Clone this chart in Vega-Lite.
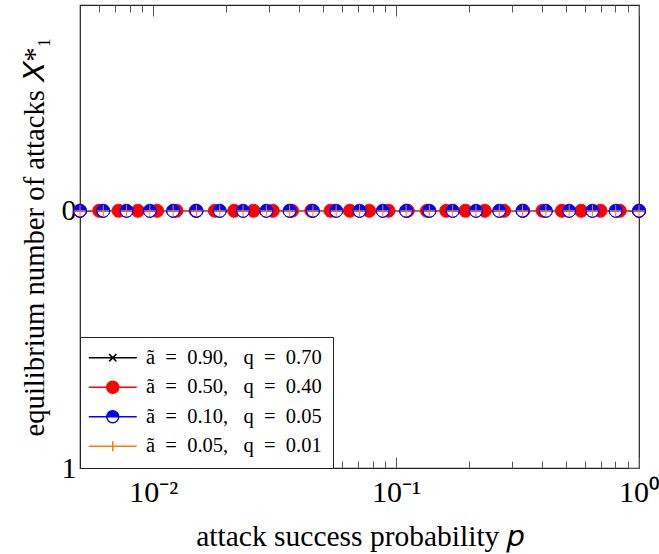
{
  "$schema": "https://vega.github.io/schema/vega-lite/v6.json",
  "width": 559,
  "height": 463,
  "autosize": {"type": "none"},
  "padding": {"left": 80, "top": 5, "right": 20, "bottom": 86},
  "background": "white",
  "config": {
    "view": {"stroke": "#222", "strokeWidth": 1.2},
    "font": "Liberation Serif",
    "axis": {
      "grid": false,
      "domain": false,
      "tickColor": "#555",
      "tickWidth": 1,
      "labelFont": "Liberation Serif",
      "titleFont": "Liberation Serif",
      "labelColor": "black",
      "titleColor": "black",
      "titleFontWeight": "normal"
    },
    "legend": {
      "title": null, "orient": "bottom-left", "offset": 0, "padding": 10.5,
      "strokeColor": "#222", "strokeWidth": 1, "fillColor": "white", "cornerRadius": 0,
      "labelFont": "Liberation Serif", "labelFontSize": 20.5, "labelColor": "black", "labelLimit": 400,
      "symbolSize": 144, "symbolOffset": 12, "labelOffset": 23, "rowPadding": 8.5, "symbolOpacity": 1
    }
  },
  "datasets": {
    "runs": [
      {"series": "ã\u2002=\u20020.90,\u2002 q\u2002=\u20020.70", "p": 0.005, "x1": 0},
      {"series": "ã\u2002=\u20020.90,\u2002 q\u2002=\u20020.70", "p": 0.006234, "x1": 0},
      {"series": "ã\u2002=\u20020.90,\u2002 q\u2002=\u20020.70", "p": 0.007772, "x1": 0},
      {"series": "ã\u2002=\u20020.90,\u2002 q\u2002=\u20020.70", "p": 0.009696, "x1": 0},
      {"series": "ã\u2002=\u20020.90,\u2002 q\u2002=\u20020.70", "p": 0.01209, "x1": 0},
      {"series": "ã\u2002=\u20020.90,\u2002 q\u2002=\u20020.70", "p": 0.01508, "x1": 0},
      {"series": "ã\u2002=\u20020.90,\u2002 q\u2002=\u20020.70", "p": 0.0188, "x1": 0},
      {"series": "ã\u2002=\u20020.90,\u2002 q\u2002=\u20020.70", "p": 0.02345, "x1": 0},
      {"series": "ã\u2002=\u20020.90,\u2002 q\u2002=\u20020.70", "p": 0.02924, "x1": 0},
      {"series": "ã\u2002=\u20020.90,\u2002 q\u2002=\u20020.70", "p": 0.03646, "x1": 0},
      {"series": "ã\u2002=\u20020.90,\u2002 q\u2002=\u20020.70", "p": 0.04547, "x1": 0},
      {"series": "ã\u2002=\u20020.90,\u2002 q\u2002=\u20020.70", "p": 0.0567, "x1": 0},
      {"series": "ã\u2002=\u20020.90,\u2002 q\u2002=\u20020.70", "p": 0.07071, "x1": 0},
      {"series": "ã\u2002=\u20020.90,\u2002 q\u2002=\u20020.70", "p": 0.08819, "x1": 0},
      {"series": "ã\u2002=\u20020.90,\u2002 q\u2002=\u20020.70", "p": 0.11, "x1": 0},
      {"series": "ã\u2002=\u20020.90,\u2002 q\u2002=\u20020.70", "p": 0.1371, "x1": 0},
      {"series": "ã\u2002=\u20020.90,\u2002 q\u2002=\u20020.70", "p": 0.171, "x1": 0},
      {"series": "ã\u2002=\u20020.90,\u2002 q\u2002=\u20020.70", "p": 0.2132, "x1": 0},
      {"series": "ã\u2002=\u20020.90,\u2002 q\u2002=\u20020.70", "p": 0.2659, "x1": 0},
      {"series": "ã\u2002=\u20020.90,\u2002 q\u2002=\u20020.70", "p": 0.3316, "x1": 0},
      {"series": "ã\u2002=\u20020.90,\u2002 q\u2002=\u20020.70", "p": 0.4135, "x1": 0},
      {"series": "ã\u2002=\u20020.90,\u2002 q\u2002=\u20020.70", "p": 0.5157, "x1": 0},
      {"series": "ã\u2002=\u20020.90,\u2002 q\u2002=\u20020.70", "p": 0.643, "x1": 0},
      {"series": "ã\u2002=\u20020.90,\u2002 q\u2002=\u20020.70", "p": 0.8019, "x1": 0},
      {"series": "ã\u2002=\u20020.90,\u2002 q\u2002=\u20020.70", "p": 1, "x1": 0},

      {"series": "ã\u2002=\u20020.50,\u2002 q\u2002=\u20020.40", "p": 0.005, "x1": 0},
      {"series": "ã\u2002=\u20020.50,\u2002 q\u2002=\u20020.40", "p": 0.006003, "x1": 0},
      {"series": "ã\u2002=\u20020.50,\u2002 q\u2002=\u20020.40", "p": 0.007208, "x1": 0},
      {"series": "ã\u2002=\u20020.50,\u2002 q\u2002=\u20020.40", "p": 0.008651, "x1": 0},
      {"series": "ã\u2002=\u20020.50,\u2002 q\u2002=\u20020.40", "p": 0.01038, "x1": 0},
      {"series": "ã\u2002=\u20020.50,\u2002 q\u2002=\u20020.40", "p": 0.01247, "x1": 0},
      {"series": "ã\u2002=\u20020.50,\u2002 q\u2002=\u20020.40", "p": 0.01496, "x1": 0},
      {"series": "ã\u2002=\u20020.50,\u2002 q\u2002=\u20020.40", "p": 0.01796, "x1": 0},
      {"series": "ã\u2002=\u20020.50,\u2002 q\u2002=\u20020.40", "p": 0.02156, "x1": 0},
      {"series": "ã\u2002=\u20020.50,\u2002 q\u2002=\u20020.40", "p": 0.02589, "x1": 0},
      {"series": "ã\u2002=\u20020.50,\u2002 q\u2002=\u20020.40", "p": 0.03108, "x1": 0},
      {"series": "ã\u2002=\u20020.50,\u2002 q\u2002=\u20020.40", "p": 0.03731, "x1": 0},
      {"series": "ã\u2002=\u20020.50,\u2002 q\u2002=\u20020.40", "p": 0.04478, "x1": 0},
      {"series": "ã\u2002=\u20020.50,\u2002 q\u2002=\u20020.40", "p": 0.05376, "x1": 0},
      {"series": "ã\u2002=\u20020.50,\u2002 q\u2002=\u20020.40", "p": 0.06454, "x1": 0},
      {"series": "ã\u2002=\u20020.50,\u2002 q\u2002=\u20020.40", "p": 0.07747, "x1": 0},
      {"series": "ã\u2002=\u20020.50,\u2002 q\u2002=\u20020.40", "p": 0.093, "x1": 0},
      {"series": "ã\u2002=\u20020.50,\u2002 q\u2002=\u20020.40", "p": 0.1117, "x1": 0},
      {"series": "ã\u2002=\u20020.50,\u2002 q\u2002=\u20020.40", "p": 0.134, "x1": 0},
      {"series": "ã\u2002=\u20020.50,\u2002 q\u2002=\u20020.40", "p": 0.1609, "x1": 0},
      {"series": "ã\u2002=\u20020.50,\u2002 q\u2002=\u20020.40", "p": 0.1931, "x1": 0},
      {"series": "ã\u2002=\u20020.50,\u2002 q\u2002=\u20020.40", "p": 0.2319, "x1": 0},
      {"series": "ã\u2002=\u20020.50,\u2002 q\u2002=\u20020.40", "p": 0.2783, "x1": 0},
      {"series": "ã\u2002=\u20020.50,\u2002 q\u2002=\u20020.40", "p": 0.3341, "x1": 0},
      {"series": "ã\u2002=\u20020.50,\u2002 q\u2002=\u20020.40", "p": 0.4011, "x1": 0},
      {"series": "ã\u2002=\u20020.50,\u2002 q\u2002=\u20020.40", "p": 0.4815, "x1": 0},
      {"series": "ã\u2002=\u20020.50,\u2002 q\u2002=\u20020.40", "p": 0.5781, "x1": 0},
      {"series": "ã\u2002=\u20020.50,\u2002 q\u2002=\u20020.40", "p": 0.6939, "x1": 0},
      {"series": "ã\u2002=\u20020.50,\u2002 q\u2002=\u20020.40", "p": 0.833, "x1": 0},
      {"series": "ã\u2002=\u20020.50,\u2002 q\u2002=\u20020.40", "p": 1, "x1": 0},

      {"series": "ã\u2002=\u20020.10,\u2002 q\u2002=\u20020.05", "p": 0.005, "x1": 0},
      {"series": "ã\u2002=\u20020.10,\u2002 q\u2002=\u20020.05", "p": 0.006234, "x1": 0},
      {"series": "ã\u2002=\u20020.10,\u2002 q\u2002=\u20020.05", "p": 0.007772, "x1": 0},
      {"series": "ã\u2002=\u20020.10,\u2002 q\u2002=\u20020.05", "p": 0.009696, "x1": 0},
      {"series": "ã\u2002=\u20020.10,\u2002 q\u2002=\u20020.05", "p": 0.01209, "x1": 0},
      {"series": "ã\u2002=\u20020.10,\u2002 q\u2002=\u20020.05", "p": 0.01508, "x1": 0},
      {"series": "ã\u2002=\u20020.10,\u2002 q\u2002=\u20020.05", "p": 0.0188, "x1": 0},
      {"series": "ã\u2002=\u20020.10,\u2002 q\u2002=\u20020.05", "p": 0.02345, "x1": 0},
      {"series": "ã\u2002=\u20020.10,\u2002 q\u2002=\u20020.05", "p": 0.02924, "x1": 0},
      {"series": "ã\u2002=\u20020.10,\u2002 q\u2002=\u20020.05", "p": 0.03646, "x1": 0},
      {"series": "ã\u2002=\u20020.10,\u2002 q\u2002=\u20020.05", "p": 0.04547, "x1": 0},
      {"series": "ã\u2002=\u20020.10,\u2002 q\u2002=\u20020.05", "p": 0.0567, "x1": 0},
      {"series": "ã\u2002=\u20020.10,\u2002 q\u2002=\u20020.05", "p": 0.07071, "x1": 0},
      {"series": "ã\u2002=\u20020.10,\u2002 q\u2002=\u20020.05", "p": 0.08819, "x1": 0},
      {"series": "ã\u2002=\u20020.10,\u2002 q\u2002=\u20020.05", "p": 0.11, "x1": 0},
      {"series": "ã\u2002=\u20020.10,\u2002 q\u2002=\u20020.05", "p": 0.1371, "x1": 0},
      {"series": "ã\u2002=\u20020.10,\u2002 q\u2002=\u20020.05", "p": 0.171, "x1": 0},
      {"series": "ã\u2002=\u20020.10,\u2002 q\u2002=\u20020.05", "p": 0.2132, "x1": 0},
      {"series": "ã\u2002=\u20020.10,\u2002 q\u2002=\u20020.05", "p": 0.2659, "x1": 0},
      {"series": "ã\u2002=\u20020.10,\u2002 q\u2002=\u20020.05", "p": 0.3316, "x1": 0},
      {"series": "ã\u2002=\u20020.10,\u2002 q\u2002=\u20020.05", "p": 0.4135, "x1": 0},
      {"series": "ã\u2002=\u20020.10,\u2002 q\u2002=\u20020.05", "p": 0.5157, "x1": 0},
      {"series": "ã\u2002=\u20020.10,\u2002 q\u2002=\u20020.05", "p": 0.643, "x1": 0},
      {"series": "ã\u2002=\u20020.10,\u2002 q\u2002=\u20020.05", "p": 0.8019, "x1": 0},
      {"series": "ã\u2002=\u20020.10,\u2002 q\u2002=\u20020.05", "p": 1, "x1": 0},

      {"series": "ã\u2002=\u20020.05,\u2002 q\u2002=\u20020.01", "p": 0.005, "x1": 0},
      {"series": "ã\u2002=\u20020.05,\u2002 q\u2002=\u20020.01", "p": 0.006234, "x1": 0},
      {"series": "ã\u2002=\u20020.05,\u2002 q\u2002=\u20020.01", "p": 0.007772, "x1": 0},
      {"series": "ã\u2002=\u20020.05,\u2002 q\u2002=\u20020.01", "p": 0.009696, "x1": 0},
      {"series": "ã\u2002=\u20020.05,\u2002 q\u2002=\u20020.01", "p": 0.01209, "x1": 0},
      {"series": "ã\u2002=\u20020.05,\u2002 q\u2002=\u20020.01", "p": 0.01508, "x1": 0},
      {"series": "ã\u2002=\u20020.05,\u2002 q\u2002=\u20020.01", "p": 0.0188, "x1": 0},
      {"series": "ã\u2002=\u20020.05,\u2002 q\u2002=\u20020.01", "p": 0.02345, "x1": 0},
      {"series": "ã\u2002=\u20020.05,\u2002 q\u2002=\u20020.01", "p": 0.02924, "x1": 0},
      {"series": "ã\u2002=\u20020.05,\u2002 q\u2002=\u20020.01", "p": 0.03646, "x1": 0},
      {"series": "ã\u2002=\u20020.05,\u2002 q\u2002=\u20020.01", "p": 0.04547, "x1": 0},
      {"series": "ã\u2002=\u20020.05,\u2002 q\u2002=\u20020.01", "p": 0.0567, "x1": 0},
      {"series": "ã\u2002=\u20020.05,\u2002 q\u2002=\u20020.01", "p": 0.07071, "x1": 0},
      {"series": "ã\u2002=\u20020.05,\u2002 q\u2002=\u20020.01", "p": 0.08819, "x1": 0},
      {"series": "ã\u2002=\u20020.05,\u2002 q\u2002=\u20020.01", "p": 0.11, "x1": 0},
      {"series": "ã\u2002=\u20020.05,\u2002 q\u2002=\u20020.01", "p": 0.1371, "x1": 0},
      {"series": "ã\u2002=\u20020.05,\u2002 q\u2002=\u20020.01", "p": 0.171, "x1": 0},
      {"series": "ã\u2002=\u20020.05,\u2002 q\u2002=\u20020.01", "p": 0.2132, "x1": 0},
      {"series": "ã\u2002=\u20020.05,\u2002 q\u2002=\u20020.01", "p": 0.2659, "x1": 0},
      {"series": "ã\u2002=\u20020.05,\u2002 q\u2002=\u20020.01", "p": 0.3316, "x1": 0},
      {"series": "ã\u2002=\u20020.05,\u2002 q\u2002=\u20020.01", "p": 0.4135, "x1": 0},
      {"series": "ã\u2002=\u20020.05,\u2002 q\u2002=\u20020.01", "p": 0.5157, "x1": 0},
      {"series": "ã\u2002=\u20020.05,\u2002 q\u2002=\u20020.01", "p": 0.643, "x1": 0},
      {"series": "ã\u2002=\u20020.05,\u2002 q\u2002=\u20020.01", "p": 0.8019, "x1": 0},
      {"series": "ã\u2002=\u20020.05,\u2002 q\u2002=\u20020.01", "p": 1, "x1": 0}
    ]
  },
  "data": {"name": "runs"},
  "layer": [
    {
      "mark": {"type": "line", "strokeWidth": 1},
      "encoding": {
        "x": {
          "field": "p", "type": "quantitative",
          "scale": {"type": "log", "domain": [0.005, 1], "nice": false},
          "axis": {
            "orient": "bottom", "values": [0.01, 0.1, 1], "tickSize": -11,
            "labelPadding": 20, "labelFontSize": 30, "labelFlush": false, "labelOverlap": false,
            "labelExpr": "datum.value < 0.05 ? '10⁻²' : datum.value < 0.5 ? '10⁻¹' : '10⁰'",
            "title": "attack success probability 𝑝", "titleFontSize": 29.5, "titlePadding": 15
          }
        },
        "y": {
          "field": "x1", "type": "quantitative",
          "scale": {"domain": [-0.8, 1], "reverse": true, "nice": false, "zero": false},
          "axis": {
            "orient": "left", "values": [0, 1], "tickSize": -11,
            "labelPadding": 15, "labelFontSize": 30, "labelFlush": false,
            "title": "equilibrium number of attacks 𝑋*₁", "titleFontSize": 28.7, "titlePadding": 12
          }
        },
        "stroke": {
          "field": "series", "type": "nominal",
          "scale": {
            "domain": ["ã\u2002=\u20020.90,\u2002 q\u2002=\u20020.70", "ã\u2002=\u20020.50,\u2002 q\u2002=\u20020.40", "ã\u2002=\u20020.10,\u2002 q\u2002=\u20020.05", "ã\u2002=\u20020.05,\u2002 q\u2002=\u20020.01"],
            "range": ["#000000", "#ff0000", "#0000ff", "#ff8000"]
          },
          "legend": {"labelExpr": "datum.label + '\u2002\u2002\u200a'"}
        }
      }
    },
    {
      "transform": [{"filter": "false"}],
      "mark": {"type": "point", "filled": true, "opacity": 1, "size": 144, "strokeWidth": 1},
      "encoding": {
        "x": {
          "field": "p", "type": "quantitative",
          "scale": {"type": "log", "domain": [0.005, 1], "nice": false},
          "axis": {"orient": "top", "values": [0.01, 0.1, 1], "tickSize": -11, "labels": false, "title": null}
        },
        "y": {
          "field": "x1", "type": "quantitative",
          "scale": {"domain": [-0.8, 1], "reverse": true, "nice": false, "zero": false},
          "axis": {"orient": "right", "values": [0, 1], "tickSize": -11, "labels": false, "title": null}
        },
        "stroke": {"field": "series", "type": "nominal", "legend": {"labelExpr": "datum.label + '\u2002\u2002\u200a'"}},
        "fill": {
          "field": "series", "type": "nominal",
          "scale": {
            "domain": ["ã\u2002=\u20020.90,\u2002 q\u2002=\u20020.70", "ã\u2002=\u20020.50,\u2002 q\u2002=\u20020.40", "ã\u2002=\u20020.10,\u2002 q\u2002=\u20020.05", "ã\u2002=\u20020.05,\u2002 q\u2002=\u20020.01"],
            "range": ["#000000", "#ff0000", "#0000ff", "#ff8000"]
          },
          "legend": {"labelExpr": "datum.label + '\u2002\u2002\u200a'"}
        },
        "shape": {
          "field": "series", "type": "nominal",
          "scale": {
            "domain": ["ã\u2002=\u20020.90,\u2002 q\u2002=\u20020.70", "ã\u2002=\u20020.50,\u2002 q\u2002=\u20020.40", "ã\u2002=\u20020.10,\u2002 q\u2002=\u20020.05", "ã\u2002=\u20020.05,\u2002 q\u2002=\u20020.01"],
            "range": [
              "M-4,0H4M-0.6,-0.6L0.6,0.6M-0.6,0.6L0.6,-0.6",
              "M-4,0H-1M1,0H4M1,0A1,1 0 1,1 -1,0A1,1 0 1,1 1,0Z",
              "M-4,0H4M-1,0A1,1 0 0,1 1,0ZM-1,0A1,1 0 0,0 1,0ZM-1,0H1A1,1 0 0,1 -1,0Z",
              "M-4,0H4M0,-0.85V0.85"
            ]
          },
          "legend": {"labelExpr": "datum.label + '\u2002\u2002\u200a'"}
        }
      }
    },
    {
      "transform": [{"filter": "datum.series == 'ã\u2002=\u20020.90,\u2002 q\u2002=\u20020.70'"}],
      "mark": {"type": "point", "shape": "M-0.6,-0.6L0.6,0.6M-0.6,0.6L0.6,-0.6", "filled": false, "opacity": 1, "size": 169, "strokeWidth": 1},
      "encoding": {
        "x": {
          "field": "p", "type": "quantitative",
          "scale": {"type": "log", "domain": [0.005, 1], "nice": false},
          "axis": null
        },
        "y": {
          "field": "x1", "type": "quantitative",
          "scale": {"domain": [-0.8, 1], "reverse": true, "nice": false, "zero": false},
          "axis": null
        },
        "stroke": {"field": "series", "type": "nominal"}
      }
    },
    {
      "transform": [{"filter": "datum.series == 'ã\u2002=\u20020.50,\u2002 q\u2002=\u20020.40'"}],
      "mark": {"type": "point", "shape": "M1,0A1,1 0 1,1 -1,0A1,1 0 1,1 1,0Z", "filled": true, "opacity": 1, "size": 169, "strokeWidth": 1},
      "encoding": {
        "x": {
          "field": "p", "type": "quantitative",
          "scale": {"type": "log", "domain": [0.005, 1], "nice": false},
          "axis": null
        },
        "y": {
          "field": "x1", "type": "quantitative",
          "scale": {"domain": [-0.8, 1], "reverse": true, "nice": false, "zero": false},
          "axis": null
        },
        "stroke": {"field": "series", "type": "nominal"},
        "fill": {"field": "series", "type": "nominal"}
      }
    },
    {
      "transform": [{"filter": "datum.series == 'ã\u2002=\u20020.10,\u2002 q\u2002=\u20020.05'"}],
      "mark": {"type": "point", "shape": "circle", "filled": true, "fill": "white", "opacity": 1, "size": 133, "strokeWidth": 0},
      "encoding": {
        "x": {
          "field": "p", "type": "quantitative",
          "scale": {"type": "log", "domain": [0.005, 1], "nice": false},
          "axis": {"orient": "bottom", "values": [0.006, 0.007, 0.008, 0.009, 0.02, 0.03, 0.04, 0.05, 0.06, 0.07, 0.08, 0.09, 0.2, 0.3, 0.4, 0.5, 0.6, 0.7, 0.8, 0.9], "tickSize": -7, "labels": false, "title": null}
        },
        "y": {
          "field": "x1", "type": "quantitative",
          "scale": {"domain": [-0.8, 1], "reverse": true, "nice": false, "zero": false},
          "axis": null
        }
      }
    },
    {
      "transform": [{"filter": "datum.series == 'ã\u2002=\u20020.10,\u2002 q\u2002=\u20020.05'"}],
      "mark": {"type": "point", "shape": "M-1,0A1,1 0 0,1 1,0ZM-1,0A1,1 0 0,0 1,0ZM-1,0H1A1,1 0 0,1 -1,0Z", "filled": true, "opacity": 1, "size": 169, "strokeWidth": 1},
      "encoding": {
        "x": {
          "field": "p", "type": "quantitative",
          "scale": {"type": "log", "domain": [0.005, 1], "nice": false},
          "axis": {"orient": "top", "values": [0.006, 0.007, 0.008, 0.009, 0.02, 0.03, 0.04, 0.05, 0.06, 0.07, 0.08, 0.09, 0.2, 0.3, 0.4, 0.5, 0.6, 0.7, 0.8, 0.9], "tickSize": -7, "labels": false, "title": null}
        },
        "y": {
          "field": "x1", "type": "quantitative",
          "scale": {"domain": [-0.8, 1], "reverse": true, "nice": false, "zero": false},
          "axis": null
        },
        "stroke": {"field": "series", "type": "nominal"},
        "fill": {"field": "series", "type": "nominal"}
      }
    },
    {
      "transform": [{"filter": "datum.series == 'ã\u2002=\u20020.05,\u2002 q\u2002=\u20020.01'"}],
      "mark": {"type": "point", "shape": "M-0.9,0H0.9M0,-0.9V0.9", "filled": false, "opacity": 1, "size": 169, "strokeWidth": 1},
      "encoding": {
        "x": {
          "field": "p", "type": "quantitative",
          "scale": {"type": "log", "domain": [0.005, 1], "nice": false},
          "axis": null
        },
        "y": {
          "field": "x1", "type": "quantitative",
          "scale": {"domain": [-0.8, 1], "reverse": true, "nice": false, "zero": false},
          "axis": null
        },
        "stroke": {"field": "series", "type": "nominal"}
      }
    }
  ],
  "resolve": {"axis": {"x": "independent", "y": "independent"}}
}
